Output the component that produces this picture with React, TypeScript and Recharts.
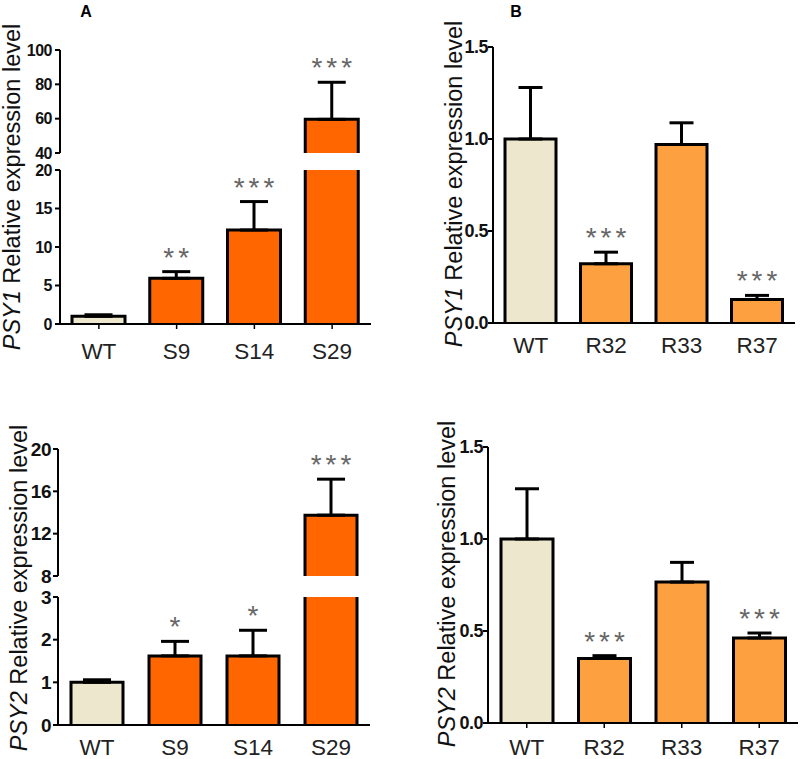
import React from "react";
import { BarChart, Bar, XAxis, YAxis, ErrorBar, Cell } from "recharts";

// lines
const sLines = ["WT", "S9", "S14", "S29"];
const rLines = ["WT", "R32", "R33", "R37"];

// PSY1, over-expression lines (broken axis)
const psy1SMean = [1.0, 5.93, 12.2, 59.6];
const psy1SErr = [0.2, 0.87, 3.7, 21.6];
const psy1SStars = ["", "**", "***", "***"];

// PSY1, RNAi lines
const psy1RMean = [1.0, 0.322, 0.97, 0.128];
const psy1RErr = [0.28, 0.063, 0.118, 0.022];
const psy1RStars = ["", "***", "", "***"];

// PSY2, over-expression lines (broken axis)
const psy2SMean = [1.0, 1.62, 1.62, 13.75];
const psy2SErr = [0.06, 0.34, 0.6, 3.4];
const psy2SStars = ["", "*", "*", "***"];

// PSY2, RNAi lines
const psy2RMean = [1.0, 0.351, 0.766, 0.462];
const psy2RErr = [0.273, 0.015, 0.107, 0.027];
const psy2RStars = ["", "***", "", "***"];

const psy1STicksLow = [0, 5, 10, 15, 20];
const psy1STicksHigh = [40, 60, 80, 100];
const psy2STicksLow = [0, 1, 2, 3];
const psy2STicksHigh = [8, 12, 16, 20];
const rTicks = [0, 0.5, 1, 1.5];

const WT_FILL = "#ede7cd";
const S_FILL = "#ff6600";
const R_FILL = "#fda040";

const W = 800;
const H = 759;
const Y_W = 50;
const X_H = 40;

const build = (cats: string[], mean: number[], err: number[], stars: string[]) =>
  cats.map((name, i) => ({ name, mean: mean[i], err: [0, err[i]] as [number, number] | null, stars: stars[i] }));

// one segment of a broken axis only shows the error bars of bars that end inside it
const forSegment = (rows: ReturnType<typeof build>, lo: number, hi: number) =>
  rows.map((r) => ({ ...r, err: r.mean < lo || r.mean > hi ? null : r.err }));

const psy1S = build(sLines, psy1SMean, psy1SErr, psy1SStars);
const psy1R = build(rLines, psy1RMean, psy1RErr, psy1RStars);
const psy2S = build(sLines, psy2SMean, psy2SErr, psy2SStars);
const psy2R = build(rLines, psy2RMean, psy2RErr, psy2RStars);

// bar with open bottom + significance stars above the error cap
function barShape(lo: number, hi: number) {
  return (props: any) => {
    const { x, y, width, height, fill, payload } = props;
    const mean = payload.mean;
    if (mean < lo) return <g />;
    const base = lo > 0 ? lo : 0;
    const ppu = height / (mean - base);
    const capY = y - (payload.err ? payload.err[1] : 0) * ppu;
    return (
      <g>
        <rect x={x} y={y} width={width} height={height} fill={fill} />
        <path
          d={`M${x},${y + height} V${y} H${x + width} V${y + height}`}
          fill="none"
          stroke="#000"
          strokeWidth={3}
        />
        {mean <= hi && payload.stars ? (
          <text
            x={x + width / 2 + 2}
            y={capY - 5}
            textAnchor="middle"
            fontSize={28}
            letterSpacing={4}
            fill="#666"
          >
            {payload.stars}
          </text>
        ) : null}
      </g>
    );
  };
}

type Box = { left: number; right: number; top: number; bottom: number };

interface SegmentProps {
  data: any[];
  box: Box;
  domain: [number, number];
  ticks: number[];
  color: string;
  showX?: boolean;
  xTickLine?: boolean;
  xTickMargin?: number;
  yFont: number;
  yTickMargin: number;
  capHalf: number;
  barSize: number;
  decimals?: boolean;
}

function Segment({
  data,
  box,
  domain,
  ticks,
  color,
  showX = false,
  xTickLine = false,
  xTickMargin = 10,
  yFont,
  yTickMargin,
  capHalf,
  barSize,
  decimals = false,
}: SegmentProps) {
  return (
    <div style={{ position: "absolute", left: 0, top: 0 }}>
      <BarChart
        width={W}
        height={H}
        data={data}
        barSize={barSize}
        margin={{
          left: box.left - Y_W,
          right: W - box.right,
          top: box.top,
          bottom: H - box.bottom - (showX ? X_H : 0),
        }}
      >
        <XAxis
          dataKey="name"
          hide={!showX}
          height={X_H}
          interval={0}
          axisLine={{ stroke: "#000", strokeWidth: 2 }}
          tickLine={xTickLine ? { stroke: "#000", strokeWidth: 1.5 } : false}
          tickSize={5}
          tickMargin={xTickMargin}
          tick={{ fontSize: 22.5, fill: "#222" }}
        />
        <YAxis
          type="number"
          domain={domain}
          ticks={ticks}
          allowDataOverflow
          width={Y_W}
          interval={0}
          axisLine={{ stroke: "#000", strokeWidth: 2 }}
          tickLine={{ stroke: "#000", strokeWidth: 2 }}
          tickSize={5}
          tickMargin={yTickMargin}
          tickFormatter={(v: number) => (decimals ? v.toFixed(1) : String(v))}
          tick={{ fontSize: yFont, fontWeight: 700, fill: "#111", letterSpacing: -0.5 }}
        />
        <Bar dataKey="mean" shape={barShape(domain[0], domain[1])} isAnimationActive={false}>
          {data.map((d, i) => (
            <Cell key={d.name} fill={i === 0 ? WT_FILL : color} />
          ))}
          <ErrorBar dataKey="err" direction="y" width={capHalf} stroke="#000" strokeWidth={3} />
        </Bar>
      </BarChart>
    </div>
  );
}

function AxisTitle({ x, y, gene }: { x: number; y: number; gene: string }) {
  return (
    <text transform={`translate(${x},${y}) rotate(-90)`} textAnchor="middle" fontSize={23.5} fill="#111">
      <tspan fontStyle="italic">{gene}</tspan> Relative expression level
    </text>
  );
}

export default function App() {
  return (
    <div
      style={{
        position: "absolute",
        left: 0,
        top: 0,
        width: W,
        height: H,
        background: "#fff",
        fontFamily: "'Liberation Sans', Arial, sans-serif",
      }}
    >
      {/* A: PSY1 over-expression, broken axis */}
      <Segment
        data={forSegment(psy1S, 40, 100)}
        box={{ left: 60, right: 371, top: 50, bottom: 153 }}
        domain={[40, 100]}
        ticks={psy1STicksHigh}
        color={S_FILL}
        yFont={16}
        yTickMargin={3}
        capHalf={14}
        barSize={53}
      />
      <Segment
        data={forSegment(psy1S, 0, 20)}
        box={{ left: 60, right: 371, top: 170, bottom: 324 }}
        domain={[0, 20]}
        ticks={psy1STicksLow}
        color={S_FILL}
        showX
        xTickLine
        xTickMargin={14}
        yFont={16}
        yTickMargin={3}
        capHalf={14}
        barSize={53}
      />

      {/* B: PSY1 RNAi */}
      <Segment
        data={psy1R}
        box={{ left: 493, right: 795, top: 47, bottom: 323 }}
        domain={[0, 1.5]}
        ticks={rTicks}
        color={R_FILL}
        showX
        xTickMargin={9}
        yFont={18}
        yTickMargin={0}
        capHalf={12}
        barSize={51}
        decimals
      />

      {/* PSY2 over-expression, broken axis */}
      <Segment
        data={forSegment(psy2S, 8, 20)}
        box={{ left: 58, right: 370, top: 449, bottom: 576 }}
        domain={[8, 20]}
        ticks={psy2STicksHigh}
        color={S_FILL}
        yFont={19}
        yTickMargin={2}
        capHalf={14}
        barSize={52}
      />
      <Segment
        data={forSegment(psy2S, 0, 3)}
        box={{ left: 58, right: 370, top: 597, bottom: 725 }}
        domain={[0, 3]}
        ticks={psy2STicksLow}
        color={S_FILL}
        showX
        xTickMargin={9}
        yFont={19}
        yTickMargin={2}
        capHalf={14}
        barSize={52}
      />

      {/* PSY2 RNAi */}
      <Segment
        data={psy2R}
        box={{ left: 488, right: 798, top: 447, bottom: 723 }}
        domain={[0, 1.5]}
        ticks={rTicks}
        color={R_FILL}
        showX
        xTickLine
        xTickMargin={11}
        yFont={18}
        yTickMargin={0}
        capHalf={12}
        barSize={52}
        decimals
      />

      <svg width={W} height={H} style={{ position: "absolute", left: 0, top: 0, pointerEvents: "none" }}>
        <text x={86} y={17} textAnchor="middle" fontSize={16} fontWeight="bold" fill="#000">
          A
        </text>
        <text x={516} y={17} textAnchor="middle" fontSize={16} fontWeight="bold" fill="#000">
          B
        </text>
        <AxisTitle x={20} y={187} gene="PSY1" />
        <AxisTitle x={462} y={184} gene="PSY1" />
        <AxisTitle x={27} y={588} gene="PSY2" />
        <AxisTitle x={455} y={584} gene="PSY2" />
      </svg>
    </div>
  );
}
